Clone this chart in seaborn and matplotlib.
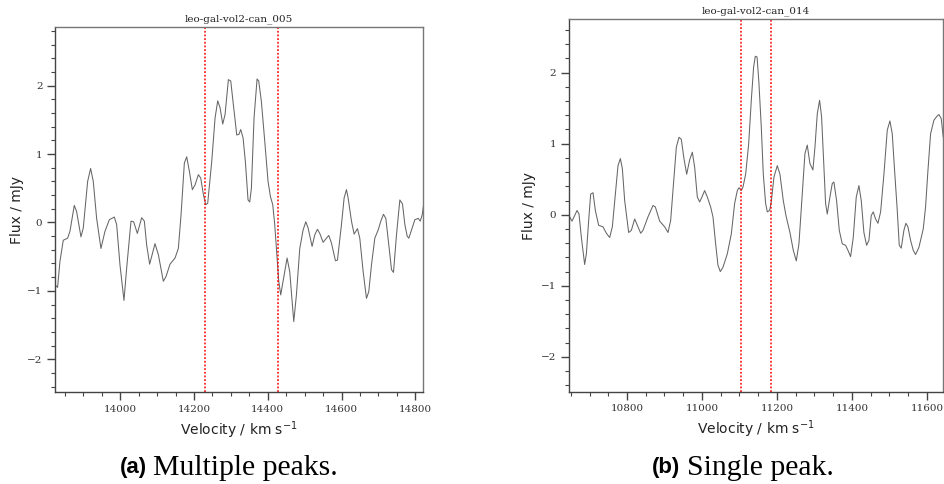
import numpy as np
import matplotlib
matplotlib.use("Agg")
import matplotlib.pyplot as plt
from matplotlib.ticker import MultipleLocator
import seaborn as sns

# ---------------- data ----------------
title_a = "leo-gal-vol2-can_005"
vel_a = [13822.8, 13830.0, 13836.4, 13845.4, 13857.2, 13863.5, 13875.3, 13881.6, 13893.4, 13899.7,
         13911.5, 13919.6, 13926.8, 13935.9, 13947.6, 13958.5, 13970.3, 13983.8, 13990.2, 13999.2,
         14010.1, 14017.3, 14029.1, 14036.3, 14046.3, 14058.0, 14065.3, 14071.6, 14079.7, 14094.2,
         14103.3, 14116.8, 14124.1, 14134.9, 14148.5, 14157.5, 14164.8, 14173.8, 14180.2, 14187.4,
         14195.5, 14202.8, 14211.8, 14218.2, 14225.4, 14231.7, 14237.1, 14248.0, 14257.1, 14264.3,
         14270.6, 14277.9, 14284.2, 14293.2, 14299.6, 14306.8, 14315.9, 14322.0, 14326.6, 14333.0,
         14339.3, 14346.5, 14351.1, 14355.6, 14362.8, 14371.0, 14375.5, 14382.7, 14391.8, 14400.8,
         14407.2, 14413.5, 14418.9, 14425.3, 14429.8, 14435.2, 14441.5, 14452.4, 14459.6, 14470.5,
         14477.7, 14486.8, 14495.8, 14503.1, 14509.4, 14520.2, 14527.5, 14534.7, 14541.1, 14550.1,
         14559.2, 14565.5, 14572.7, 14583.6, 14589.0, 14599.9, 14607.1, 14613.4, 14617.9, 14627.0,
         14634.2, 14643.3, 14649.6, 14658.7, 14667.7, 14674.0, 14681.3, 14690.3, 14699.4, 14706.6,
         14713.8, 14720.2, 14728.3, 14735.6, 14741.0, 14749.1, 14758.2, 14765.4, 14771.8, 14778.1,
         14782.6, 14789.8, 14798.9, 14808.0, 14813.4, 14818.8, 14824.2]
flux_a = [-0.91, -0.95, -0.57, -0.26, -0.23, -0.13, 0.25, 0.16, -0.21, -0.08,
          0.60, 0.79, 0.60, 0.06, -0.38, -0.13, 0.04, 0.08, -0.03, -0.62,
          -1.14, -0.67, 0.02, 0.01, -0.16, 0.07, 0.02, -0.33, -0.61, -0.31,
          -0.47, -0.86, -0.79, -0.61, -0.52, -0.38, 0.11, 0.87, 0.96, 0.75,
          0.48, 0.55, 0.70, 0.65, 0.41, 0.26, 0.28, 0.89, 1.53, 1.78,
          1.68, 1.44, 1.58, 2.09, 2.07, 1.72, 1.28, 1.29, 1.36, 1.24,
          0.89, 0.33, 0.30, 0.50, 1.53, 2.10, 2.07, 1.77, 1.19, 0.60,
          0.38, 0.26, -0.03, -0.52, -0.86, -1.06, -0.86, -0.52, -0.72, -1.45,
          -1.06, -0.38, -0.11, 0.01, -0.08, -0.35, -0.18, -0.10, -0.16, -0.29,
          -0.23, -0.19, -0.30, -0.56, -0.55, -0.03, 0.36, 0.48, 0.36, 0.02,
          -0.17, -0.09, -0.23, -0.72, -1.11, -1.01, -0.62, -0.23, -0.11, 0.02,
          0.12, 0.06, -0.33, -0.69, -0.73, -0.18, 0.33, 0.27, -0.03, -0.20,
          -0.23, -0.11, 0.04, 0.06, 0.02, 0.11, 0.32]
lines_a = [14229, 14427]
xlim_a = (13823, 14821)
ylim_a = (-2.48, 2.86)
xticks_a = [14000, 14200, 14400, 14600, 14800]

title_b = "leo-gal-vol2-can_014"
vel_b = [10642.7, 10647.1, 10653.4, 10660.5, 10666.7, 10672.0, 10678.3, 10687.1, 10691.6, 10697.8,
         10703.1, 10709.4, 10715.6, 10724.5, 10736.0, 10744.9, 10753.8, 10760.9, 10769.8, 10776.0,
         10782.3, 10787.6, 10793.8, 10804.5, 10811.6, 10820.5, 10827.6, 10836.5, 10842.7, 10856.0,
         10869.4, 10875.6, 10887.2, 10900.5, 10909.4, 10916.5, 10925.4, 10931.6, 10938.7, 10944.9,
         10952.0, 10959.2, 10967.1, 10974.3, 10980.5, 10987.6, 10993.8, 11000.0, 11007.2, 11014.3,
         11023.1, 11029.4, 11036.5, 11042.7, 11048.9, 11056.0, 11067.6, 11078.3, 11087.2, 11094.3,
         11098.7, 11104.9, 11109.4, 11116.5, 11124.5, 11131.6, 11137.8, 11142.3, 11147.0, 11152.0,
         11158.3, 11163.6, 11169.8, 11174.3, 11180.5, 11184.9, 11192.0, 11200.9, 11208.0, 11216.9,
         11224.0, 11234.7, 11243.6, 11251.6, 11258.7, 11267.6, 11274.7, 11280.9, 11288.0, 11296.0,
         11301.4, 11307.6, 11313.8, 11319.1, 11325.4, 11329.8, 11334.3, 11341.4, 11347.6, 11352.0,
         11359.1, 11366.3, 11374.3, 11383.2, 11389.4, 11396.5, 11403.6, 11411.6, 11418.7, 11424.9,
         11432.0, 11439.2, 11445.4, 11451.6, 11457.0, 11463.2, 11469.5, 11476.6, 11485.4, 11494.3,
         11501.4, 11507.6, 11513.9, 11521.0, 11526.3, 11531.6, 11538.7, 11544.0, 11549.4, 11556.5,
         11563.6, 11569.8, 11578.7, 11590.3, 11596.5, 11602.8, 11609.9, 11618.8, 11625.9, 11632.2,
         11638.4, 11643.7]
flux_b = [0.06, -0.03, -0.09, -0.01, 0.06, 0.01, -0.32, -0.70, -0.55, -0.08,
          0.29, 0.31, 0.06, -0.15, -0.17, -0.26, -0.32, -0.17, 0.34, 0.69,
          0.79, 0.65, 0.20, -0.25, -0.22, -0.06, -0.15, -0.26, -0.22, -0.03,
          0.13, 0.11, -0.09, -0.17, -0.25, -0.08, 0.53, 0.95, 1.09, 1.06,
          0.79, 0.57, 0.77, 0.88, 0.67, 0.25, 0.18, 0.25, 0.34, 0.25,
          0.11, -0.03, -0.41, -0.71, -0.80, -0.74, -0.55, -0.27, 0.16, 0.34,
          0.38, 0.34, 0.39, 0.57, 0.99, 1.61, 2.08, 2.23, 2.22, 1.85,
          1.23, 0.57, 0.16, 0.04, 0.06, 0.18, 0.53, 0.69, 0.57, 0.20,
          -0.01, -0.25, -0.50, -0.65, -0.41, 0.30, 0.86, 0.98, 0.72, 0.63,
          0.95, 1.42, 1.61, 1.38, 0.67, 0.16, 0.01, 0.25, 0.44, 0.46,
          0.20, -0.22, -0.41, -0.43, -0.50, -0.59, -0.32, 0.25, 0.41, 0.20,
          -0.25, -0.43, -0.36, -0.01, 0.04, -0.06, -0.12, 0.04, 0.57, 1.19,
          1.32, 1.14, 0.62, 0.06, -0.43, -0.47, -0.22, -0.12, -0.17, -0.36,
          -0.50, -0.56, -0.46, -0.20, 0.11, 0.62, 1.14, 1.33, 1.38, 1.41,
          1.35, 1.09]
lines_b = [11105, 11183]
xlim_b = (10644.5, 11643)
ylim_b = (-2.49, 2.75)
xticks_b = [10800, 11000, 11200, 11400, 11600]

caption_tags = ["(a)", "(b)"]
caption_texts = ["Multiple peaks.", "Single peak."]

xlabel = r"Velocity / km s$^{-1}$"
ylabel = "Flux / mJy"

# ---------------- figure ----------------
sns.set_style("ticks")
plt.rcParams["font.family"] = ["DejaVu Sans"]
plt.rcParams["mathtext.fontset"] = "dejavusans"

fig = plt.figure(figsize=(9.44, 4.84), dpi=100)
W, H = 944.0, 484.0

def px_axes(l, t, r, b):
    return fig.add_axes([l / W, 1 - b / H, (r - l) / W, (b - t) / H])

ax_a = px_axes(55, 27, 423, 392)
ax_b = px_axes(568.7, 19.3, 943, 391.7)

panels = [
    (ax_a, vel_a, flux_a, lines_a, xlim_a, ylim_a, xticks_a, title_a, -0.084),
    (ax_b, vel_b, flux_b, lines_b, xlim_b, ylim_b, xticks_b, title_b, -0.087),
]

for ax, v, f, lns, xl, yl, xt, ttl, ylx in panels:
    sns.lineplot(x=np.array(v), y=np.array(f), ax=ax, color="#666666",
                 linewidth=0.75, sort=False, estimator=None)
    for lv in lns:
        ax.axvline(lv, color="red", linestyle=(0, (1.2, 1.2)), linewidth=1.1)
    ax.set_xlim(*xl)
    ax.set_ylim(*yl)
    ax.set_xticks(xt)
    ax.xaxis.set_minor_locator(MultipleLocator(50))
    ax.yaxis.set_major_locator(MultipleLocator(1))
    ax.yaxis.set_minor_locator(MultipleLocator(0.2))
    ax.tick_params(axis="both", which="major", direction="out", length=6, width=1,
                   color="#444444", labelsize=7.5, labelcolor="#333333", pad=3)
    ax.tick_params(axis="both", which="minor", direction="out", length=3, width=0.8,
                   color="#444444")
    for lab in ax.get_xticklabels() + ax.get_yticklabels():
        lab.set_family("DejaVu Serif")
    for side in ["left", "bottom"]:
        ax.spines[side].set_color("#444444")
        ax.spines[side].set_linewidth(1.0)
    for side in ["top", "right"]:
        ax.spines[side].set_visible(True)
        ax.spines[side].set_color("#777777")
        ax.spines[side].set_linewidth(1.0)
    ax.set_xlabel(xlabel, fontsize=10, color="#222222", labelpad=4)
    ax.set_ylabel(ylabel, fontsize=10, color="#222222")
    ax.yaxis.set_label_coords(ylx, 0.5)
    ax.set_title(ttl, fontsize=7.5, family="DejaVu Serif", color="#222222", pad=4)

# captions
cap_y = 1 - 468 / H
fig.text(147 / W, cap_y, caption_tags[0], ha="right", va="center",
         fontsize=16, fontweight="bold", family="Liberation Sans", color="black")
fig.text(153 / W, cap_y, caption_texts[0], ha="left", va="center",
         fontsize=21.4, family="Liberation Serif", color="black")
fig.text(680 / W, cap_y, caption_tags[1], ha="right", va="center",
         fontsize=16, fontweight="bold", family="Liberation Sans", color="black")
fig.text(687 / W, cap_y, caption_texts[1], ha="left", va="center",
         fontsize=21.4, family="Liberation Serif", color="black")

fig.savefig("out.png", dpi=100, facecolor="white")
